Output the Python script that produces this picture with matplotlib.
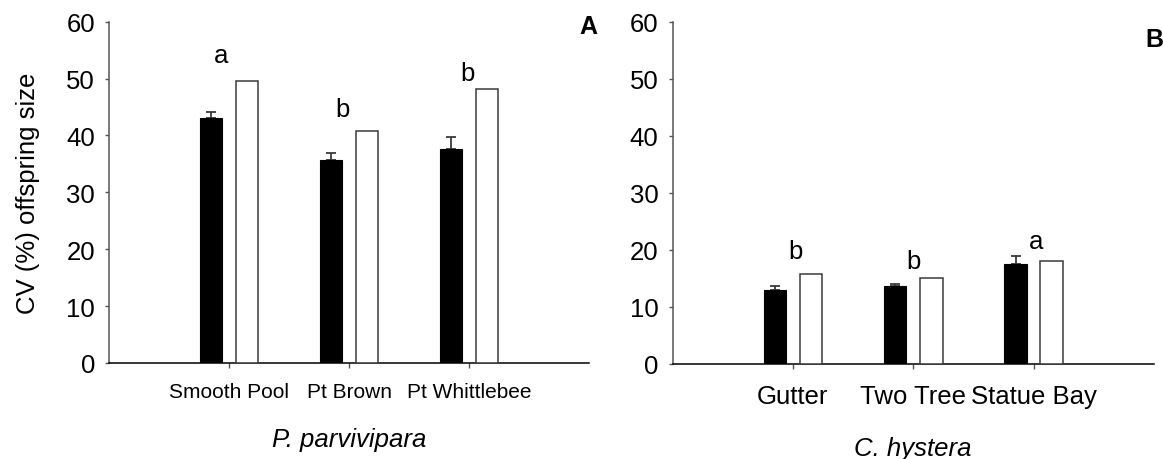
import matplotlib
matplotlib.use("Agg")
import matplotlib.pyplot as plt
import numpy as np

plt.rcParams["font.family"] = ["Liberation Sans", "DejaVu Sans"]

# Panel A: P. parvivipara
sites_a = ["Smooth Pool", "Pt Brown", "Pt Whittlebee"]
filled_a = [43.0, 35.6, 37.7]
filled_err_a = [1.1, 1.4, 2.0]
open_a = [49.6, 40.8, 48.1]
letters_a = ["a", "b", "b"]
letter_y_a = [52.9, 43.4, 49.7]

# Panel B: C. hystera
sites_b = ["Gutter", "Two Tree", "Statue Bay"]
filled_b = [13.0, 13.7, 17.5]
filled_err_b = [0.7, 0.4, 1.4]
open_b = [15.8, 15.1, 18.05]
letters_b = ["b", "b", "a"]
letter_y_b = [18.6, 16.8, 20.3]

EDGE = "#3a3a3a"
W, H = 1163, 460
fig = plt.figure(figsize=(W / 100, H / 100), dpi=100)
fig.patch.set_facecolor("white")


def draw_panel(rect, sites, filled, err, opened, letters, letter_y, letter_dx,
               species, tick_fs, xpad, lpad):
    ax = fig.add_axes(rect)
    x = np.arange(len(sites))
    bw = 0.186
    ax.bar(x - 0.15, filled, bw, color="black", edgecolor="black", linewidth=0.8, zorder=3)
    ax.errorbar(x - 0.15, filled, yerr=[np.zeros(len(err)), err], fmt="none",
                ecolor=EDGE, elinewidth=1.3, capsize=3.3, capthick=1.3, zorder=2)
    ax.bar(x + 0.15, opened, bw, color="white", edgecolor=EDGE, linewidth=1.1, zorder=3)
    for xi, dx, lab, ly in zip(x, letter_dx, letters, letter_y):
        ax.text(xi + dx, ly, lab, ha="center", va="baseline", fontsize=18.5)

    ax.set_xlim(-1, 3)
    ax.set_ylim(0, 60)
    ax.set_yticks(np.arange(0, 61, 10))
    ax.set_xticks(x)
    ax.set_xticklabels(sites, fontsize=tick_fs)
    ax.tick_params(axis="y", direction="out", length=3, width=1, color="#555555",
                   labelsize=18.5, pad=7)
    ax.tick_params(axis="x", direction="out", length=3.6, width=1, color="#555555",
                   pad=xpad)
    for side in ("top", "right"):
        ax.spines[side].set_visible(False)
    ax.spines["left"].set_color("#555555")
    ax.spines["left"].set_linewidth(1.1)
    ax.spines["bottom"].set_color("black")
    ax.spines["bottom"].set_linewidth(1.1)
    ax.set_xlabel(species, fontsize=18.5, style="italic", labelpad=lpad)
    return ax


ax_a = draw_panel([109 / W, 1 - 364 / H, 480 / W, 341.3 / H], sites_a, filled_a,
                  filled_err_a, open_a, letters_a, letter_y_a, [-0.07, -0.055, -0.015],
                  "P. parvivipara", 15, 10, 19)
ax_b = draw_panel([672.5 / W, 1 - 365 / H, 481.5 / W, 342.3 / H], sites_b, filled_b,
                  filled_err_b, open_b, letters_b, letter_y_b, [0.02, 0.0, 0.02],
                  "C. hystera", 18.5, 11, 20)

fig.text(28 / W, 1 - 193 / H, "CV (%) offspring size", rotation=90,
         ha="center", va="center", fontsize=18.5)
fig.text(588 / W, 1 - 27 / H, "A", ha="center", va="center", fontsize=18, fontweight="bold")
fig.text(1154 / W, 1 - 40 / H, "B", ha="center", va="center", fontsize=18, fontweight="bold")

fig.savefig("out.png", dpi=100)
